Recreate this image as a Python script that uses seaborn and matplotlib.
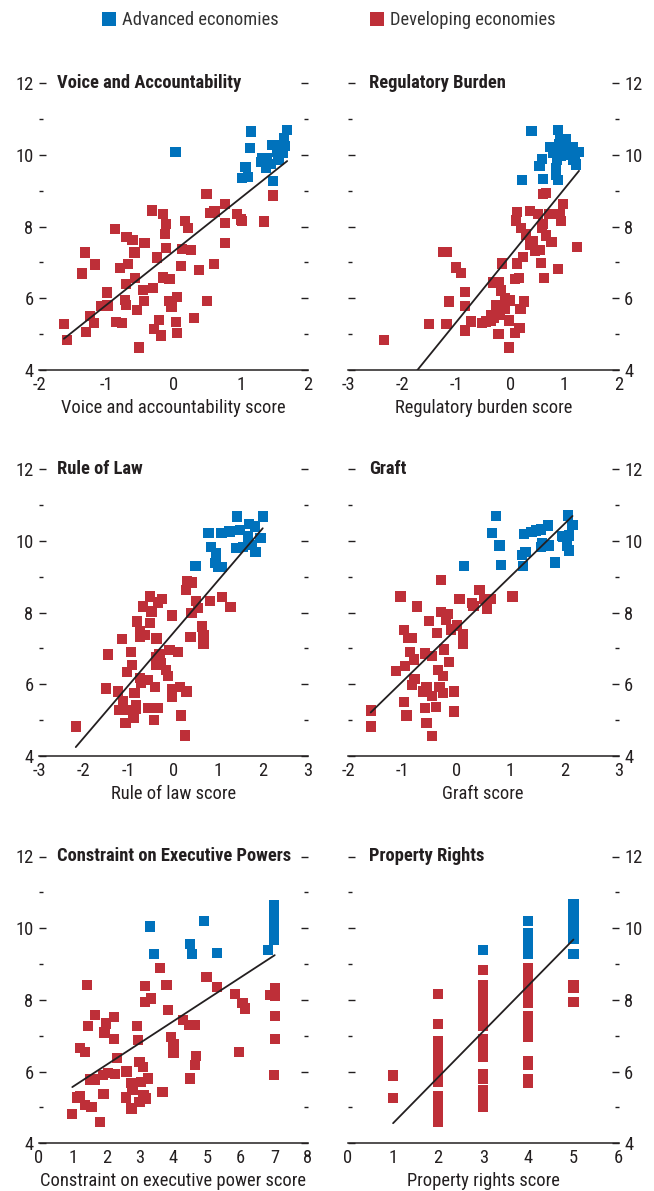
import os
import matplotlib
matplotlib.use("Agg")
import matplotlib.pyplot as plt
import matplotlib.transforms as mtransforms
from matplotlib import font_manager as fm
from matplotlib.lines import Line2D
from matplotlib.ticker import MultipleLocator
import pandas as pd
import seaborn as sns

# ---------------------------------------------------------------- data
# y: log real GDP per capita; x: institutional quality score

voice_adv_x = [0.03, 1.15, 1.14, 1.69, 1.64, 1.47, 1.59, 1.32, 1.39, 1.54, 1.37, 1.07, 1.02, 1.11, 1.48, 1.62, 1.56, 1.45, 1.30, 1.66]
voice_adv_y = [10.07, 10.65, 10.20, 10.70, 10.47, 10.28, 10.28, 9.92, 9.92, 10.09, 9.64, 9.67, 9.36, 9.38, 9.28, 10.05, 9.85, 9.75, 9.80, 10.25]
voice_dev_x = [-1.63, -1.58, -1.30, -1.24, -1.18, -1.32, -1.36, -1.17, -1.07, -0.98, -0.99, -0.87, -0.86, -0.76, -0.79, -0.70,
               -0.68, -0.71, -0.72, -0.71, -0.61, -0.58, -0.57, -0.54, -0.51, -0.43, -0.45, -0.44, -0.32, -0.31, -0.25, -0.29,
               -0.21, -0.18, -0.16, -0.11, -0.13, -0.11, -0.16, -0.06, -0.06, -0.03, 0.05, 0.04, 0.05, 0.11, 0.13, 0.17, 0.21,
               0.26, 0.30, 0.38, 0.49, 0.50, 0.54, 0.61, 0.60, 0.77, 0.76, 0.77, 0.95, 1.00, 1.02, 1.34, 1.48]
voice_dev_y = [5.28, 4.84, 5.07, 5.51, 5.30, 7.28, 6.69, 6.94, 5.79, 5.80, 6.16, 7.93, 5.34, 5.32, 6.85, 7.72,
               6.95, 6.40, 5.95, 5.82, 7.63, 7.28, 6.56, 5.68, 4.63, 7.54, 6.23, 5.92, 8.45, 6.28, 7.14, 5.15,
               5.40, 4.96, 8.35, 8.07, 7.80, 7.41, 6.58, 6.53, 5.93, 5.75, 6.03, 5.33, 5.04, 6.90, 7.38, 8.16, 7.95,
               7.35, 5.46, 6.79, 8.91, 5.93, 8.39, 8.42, 6.96, 8.63, 7.55, 8.11, 8.35, 8.20, 8.15, 8.14, 8.87]

reg_adv_x = [0.39, 0.21, 0.61, 0.59, 0.54, 0.88, 0.73, 0.90, 1.03, 1.06, 1.16, 1.27, 1.16, 1.22, 0.86, 0.85, 0.88, 0.84, 0.94,
             0.95, 1.00, 1.10, 0.80, 1.20, 0.92]
reg_adv_y = [10.67, 9.30, 9.33, 9.89, 9.69, 10.69, 10.23, 10.29, 10.45, 10.06, 10.23, 10.08, 9.87, 9.73, 9.87, 9.64, 9.30, 9.45, 9.97,
             10.30, 10.15, 10.00, 10.05, 9.95, 10.40]
reg_dev_x = [-2.34, -1.51, -1.18, -1.25, -1.18, -1.14, -1.00, -0.91, -0.84, -0.84, -0.84, -0.72, -0.52, -0.35, -0.32, -0.35,
             -0.22, -0.17, -0.26, -0.10, -0.01, -0.15, -0.22, -0.03, -0.03, -0.15, 0.08, 0.17, 0.19, 0.26, 0.08, 0.16, 0.13,
             0.23, 0.13, 0.11, 0.20, 0.29, 0.36, 0.37, 0.42, 0.45, 0.51, 0.54, 0.57, 0.61, 0.59, 0.63, 0.66, 0.76, 0.61,
             0.66, 0.71, 0.88, 0.91, 0.94, 0.97, 1.24, -0.45, -0.30, -0.20, -0.10]
reg_dev_y = [4.84, 5.29, 5.29, 7.29, 7.29, 5.91, 6.86, 6.70, 6.17, 5.79, 5.10, 5.35, 5.32, 5.38, 6.44, 5.54,
             6.44, 6.22, 5.82, 6.00, 5.94, 5.72, 5.01, 4.63, 5.38, 6.97, 5.03, 5.17, 5.70, 5.91, 6.54, 6.56, 6.97,
             7.15, 8.40, 8.17, 7.96, 7.78, 8.43, 7.50, 7.59, 7.31, 8.36, 7.34, 6.98, 8.08, 7.96, 6.56, 7.75, 7.56, 8.90,
             8.94, 8.36, 6.82, 8.36, 8.15, 8.64, 7.42, 5.35, 5.45, 5.55, 5.70]

law_adv_x = [0.49, 0.78, 0.84, 0.94, 0.94, 0.92, 0.99, 1.07, 1.07, 1.25, 1.42, 1.39, 1.49, 1.68, 1.66, 1.74, 1.83, 1.94, 1.99, 1.81, 1.55]
law_adv_y = [9.30, 10.21, 9.84, 9.66, 9.52, 9.38, 9.28, 9.28, 10.21, 10.26, 10.68, 9.80, 10.31, 10.47, 10.12, 9.89, 9.70, 10.07, 10.68, 10.40, 9.84]
law_dev_x = [-2.18, -1.51, -1.46, -1.24, -1.22, -1.14, -1.13, -1.07, -1.04, -0.94, -0.92, -0.98, -0.89, -0.87, -0.84, -0.84,
             -0.81, -0.75, -0.75, -0.75, -0.72, -0.68, -0.64, -0.57, -0.57, -0.53, -0.53, -0.49, -0.42, -0.44, -0.38, -0.38,
             -0.38, -0.35, -0.35, -0.25, -0.31, -0.27, -0.16, -0.13, -0.09, -0.03, -0.03, -0.03, 0.14, 0.10, 0.16, 0.26,
             0.29, 0.27, 0.30, 0.40, 0.40, 0.38, 0.51, 0.55, 0.64, 0.67, 0.67, 0.82, 1.09, 1.27]
law_dev_y = [4.82, 5.88, 6.83, 5.80, 5.28, 7.27, 5.52, 4.93, 6.35, 6.91, 6.54, 5.28, 5.05, 5.75, 5.42, 5.30,
             7.75, 7.47, 7.33, 6.17, 6.03, 8.17, 7.38, 6.12, 5.33, 8.45, 7.72, 8.03, 5.92, 5.00, 7.28, 6.77,
             6.54, 5.33, 8.28, 8.37, 6.85, 6.60, 6.40, 6.23, 6.96, 7.92, 5.86, 5.64, 5.92, 6.91, 5.13, 4.57,
             5.80, 8.63, 8.88, 8.84, 7.98, 7.33, 8.33, 8.12, 7.61, 7.38, 7.13, 8.33, 8.43, 8.15]

graft_adv_x = [0.15, 0.73, 0.66, 0.80, 0.83, 1.22, 1.23, 1.28, 1.26, 1.39, 1.48, 1.57, 1.70, 1.59, 1.57, 1.72, 1.82, 2.07, 2.15, 1.98, 2.09, 2.05, 2.09, 1.95]
graft_adv_y = [9.31, 10.69, 10.22, 9.87, 9.33, 9.61, 9.29, 9.68, 10.20, 10.24, 10.29, 10.32, 10.43, 9.94, 9.82, 9.87, 9.40, 10.71, 10.45, 10.10, 10.15, 9.87, 9.73, 10.13]
graft_dev_x = [-1.58, -1.57, -1.03, -1.12, -0.97, -0.97, -0.95, -0.92, -0.89, -0.86, -0.81, -0.78, -0.77, -0.82, -0.73, -0.61,
               -0.58, -0.55, -0.58, -0.55, -0.50, -0.44, -0.44, -0.44, -0.38, -0.36, -0.33, -0.31, -0.28, -0.28, -0.25, -0.24,
               -0.22, -0.19, -0.16, -0.14, -0.10, -0.04, -0.04, 0.01, 0.06, 0.12, 0.13, 0.29, 0.32, 0.43, 0.52, 0.57, 0.65, 1.04]
graft_dev_y = [5.27, 4.82, 8.45, 6.36, 7.51, 5.50, 6.52, 5.13, 7.30, 6.90, 7.30, 6.69, 6.15, 5.99, 8.17, 5.80,
               6.86, 5.93, 5.34, 4.93, 7.77, 6.79, 5.68, 4.56, 5.36, 7.42, 6.39, 5.93, 8.92, 8.02, 5.76, 6.24,
               6.97, 7.79, 7.95, 6.62, 7.53, 5.80, 5.24, 7.64, 8.37, 7.39, 7.14, 8.26, 8.19, 8.64, 8.37, 8.11, 8.37, 8.45]

exec_adv_x = [3.31, 3.41, 4.90, 4.50, 4.56, 5.29, 6.81, 7, 7, 7, 7, 7, 7, 7, 7, 7, 7, 7, 7, 7, 7]
exec_adv_y = [10.05, 9.27, 10.20, 9.57, 9.27, 9.31, 9.40, 10.65, 10.58, 10.50, 10.42, 10.35, 10.28, 10.20, 10.12, 10.05,
              9.98, 9.90, 9.83, 9.76, 9.68]
exec_dev_x = [0.99, 1.13, 1.21, 1.21, 1.36, 1.36, 1.43, 1.46, 1.56, 1.51, 1.66, 1.66, 1.82, 1.92, 1.90, 1.95,
              2.00, 2.05, 2.22, 2.22, 2.25, 2.32, 2.58, 2.60, 2.73, 2.78, 2.75, 2.92, 2.94, 2.99, 2.99, 3.04,
              3.09, 3.11, 3.19, 3.24, 3.16, 3.16, 3.34, 3.59, 3.67, 3.79, 3.84, 3.93, 4.00, 4.00, 4.28, 4.46,
              4.63, 4.66, 4.63, 4.48, 4.98, 5.29, 5.82, 6.05, 6.12, 5.94, 6.86, 7.01, 7.01, 7.01, 7.01, 6.98]
exec_dev_y = [4.82, 5.28, 5.32, 6.65, 6.55, 5.07, 8.41, 7.27, 5.02, 5.78, 7.57, 5.78, 4.60, 5.37, 5.90, 7.09,
              7.34, 5.95, 7.53, 6.90, 5.93, 6.37, 5.28, 6.00, 5.69, 5.48, 4.97, 7.27, 6.88, 6.27, 5.16, 5.72,
              6.13, 5.35, 5.25, 5.81, 8.38, 7.94, 8.04, 8.89, 5.44, 8.41, 7.71, 6.97, 6.77, 6.52, 7.43, 7.31,
              7.31, 6.43, 6.18, 5.81, 8.64, 8.36, 8.16, 7.92, 7.76, 6.55, 8.13, 8.32, 8.10, 7.55, 6.90, 5.90]

# property rights score is discrete (1-5); income values listed per score
prop_scores = [1, 2, 3, 4, 5]
prop_adv_y = {
    1: [],
    2: [],
    3: [9.40],
    4: [10.20, 9.87, 9.80, 9.75, 9.70, 9.60, 9.52, 9.45, 9.38, 9.33, 9.28],
    5: [10.67, 10.60, 10.55, 10.42, 10.36, 10.30, 10.18, 10.12, 10.05, 9.93, 9.87, 9.82, 9.70, 9.29],
}
prop_dev_y = {
    1: [5.89, 5.27],
    2: [8.17, 7.33, 6.86, 6.72, 6.60, 6.45, 6.30, 6.18, 6.05, 5.90, 5.80, 5.72, 5.33, 5.27, 5.20, 5.12, 5.05,
        4.98, 4.90, 4.82, 4.75, 4.68, 4.60],
    3: [8.84, 8.42, 8.30, 8.15, 8.00, 7.88, 7.75, 7.60, 7.45, 7.28, 6.91, 6.75, 6.60, 6.42, 5.93, 5.80, 5.49, 5.35, 5.20, 5.02],
    4: [8.90, 8.82, 8.75, 8.68, 8.60, 8.52, 8.45, 8.38, 8.30, 8.22, 8.15, 8.05, 7.93, 7.55, 7.40, 7.25, 7.10, 6.98,
        6.28, 6.19, 5.80, 5.69],
    5: [8.42, 8.34, 7.95],
}

group_labels = ["Advanced economies", "Developing economies"]
group_colors = ["#0072BC", "#BE2F38"]

panel_titles = ["Voice and Accountability", "Regulatory Burden", "Rule of Law",
                "Graft", "Constraint on Executive Powers", "Property Rights"]
panel_xlabels = ["Voice and accountability score", "Regulatory burden score", "Rule of law score",
                 "Graft score", "Constraint on executive power score", "Property rights score"]
panel_xlims = [(-2, 2), (-3, 2), (-3, 3), (-2, 3), (0, 8), (0, 6)]
y_limits = (4, 12)


def make_frame(ax_, ay_, dx_, dy_):
    adv = pd.DataFrame({"score": ax_, "income": ay_, "group": group_labels[0]})
    dev = pd.DataFrame({"score": dx_, "income": dy_, "group": group_labels[1]})
    return pd.concat([adv, dev], ignore_index=True)


prop_adv_x, prop_adv_yl, prop_dev_x, prop_dev_yl = [], [], [], []
for s in prop_scores:
    prop_adv_x += [s] * len(prop_adv_y[s])
    prop_adv_yl += prop_adv_y[s]
    prop_dev_x += [s] * len(prop_dev_y[s])
    prop_dev_yl += prop_dev_y[s]

frames = [
    make_frame(voice_adv_x, voice_adv_y, voice_dev_x, voice_dev_y),
    make_frame(reg_adv_x, reg_adv_y, reg_dev_x, reg_dev_y),
    make_frame(law_adv_x, law_adv_y, law_dev_x, law_dev_y),
    make_frame(graft_adv_x, graft_adv_y, graft_dev_x, graft_dev_y),
    make_frame(exec_adv_x, exec_adv_y, exec_dev_x, exec_dev_y),
    make_frame(prop_adv_x, prop_adv_yl, prop_dev_x, prop_dev_yl),
]


# ---------------------------------------------------------------- fonts
def narrow_font():
    """Return (family, stretch) of an installed narrow sans face, if any."""
    wanted = ["liberationsansnarrow", "robotocondensed", "notosans-condensed",
              "dejavusanscondensed", "opensanscondensed", "opensans_condensed"]
    for key in wanted:
        for f in fm.fontManager.ttflist:
            base = os.path.basename(f.fname).lower().replace(" ", "")
            if key in base and "italic" not in base and "oblique" not in base:
                return f.name, f.stretch
    return None, None


family, stretch = narrow_font()

sns.set_style("white")
if family:
    plt.rcParams["font.family"] = [family, "DejaVu Sans"]
    plt.rcParams["font.stretch"] = stretch
    fs = 13.3
else:
    plt.rcParams["font.family"] = ["Roboto", "DejaVu Sans"]
    fs = 11.5

ink = "#231F20"
plt.rcParams.update({
    "text.color": ink,
    "axes.labelcolor": ink,
    "xtick.color": ink,
    "ytick.color": ink,
    "font.size": fs,
    "axes.unicode_minus": False,
})

W, H = 654, 1191
fig = plt.figure(figsize=(W / 100, H / 100), dpi=100)

col_left = [39 / W, 348 / W]
col_width = [269 / W, 270.5 / W]
row_bottom = [1 - 370 / H, 1 - 756 / H, 1 - 1143.3 / H]
row_height = 286.8 / H

palette = dict(zip(group_labels, group_colors))

for i, df in enumerate(frames):
    r, c = divmod(i, 2)
    ax = fig.add_axes([col_left[c], row_bottom[r], col_width[c], row_height])

    sns.scatterplot(data=df, x="score", y="income", hue="group", palette=palette,
                    marker="s", s=54, linewidth=0, legend=False, ax=ax, zorder=2)
    sns.regplot(data=df, x="score", y="income", scatter=False, ci=None, truncate=True,
                line_kws={"color": ink, "lw": 1.3, "zorder": 3}, ax=ax)

    ax.set_xlim(*panel_xlims[i])
    ax.set_ylim(*y_limits)
    ax.xaxis.set_major_locator(MultipleLocator(1))
    ax.xaxis.set_minor_locator(MultipleLocator(0.5))
    ax.yaxis.set_major_locator(MultipleLocator(2))
    ax.yaxis.set_minor_locator(MultipleLocator(1))

    for side in ["top", "left", "right"]:
        ax.spines[side].set_visible(False)
    ax.spines["bottom"].set_color(ink)
    ax.spines["bottom"].set_linewidth(1.1)

    ax.tick_params(axis="x", which="major", direction="in", length=5, width=1.0, pad=4, labelsize=fs)
    ax.tick_params(axis="x", which="minor", direction="in", length=3, width=1.0)
    ax.tick_params(axis="y", which="major", direction="in", length=5, width=1.0,
                   left=True, right=True, labelleft=(c == 0), labelright=(c == 1),
                   pad=4, labelsize=fs)
    ax.tick_params(axis="y", which="minor", direction="in", length=3, width=1.0,
                   left=True, right=True)

    ax.set_xlabel(panel_xlabels[i], fontsize=fs, labelpad=4)
    ax.set_ylabel("")

    trans = mtransforms.blended_transform_factory(ax.transAxes, ax.transData)
    ax.text(0.068 if c == 0 else 0.078, 12, panel_titles[i], transform=trans,
            ha="left", va="center", fontsize=fs, fontweight="bold", clip_on=False)

# legend row across the top
for label, color, x0 in zip(group_labels, group_colors, [102, 370]):
    handle = Line2D([], [], marker="s", linestyle="none", markersize=10.5,
                    markerfacecolor=color, markeredgewidth=0)
    fig.legend(handles=[handle], labels=[label], loc="center left",
               bbox_to_anchor=(x0 / W, 1 - 20 / H), frameon=False, fontsize=fs,
               handlelength=0.8, handletextpad=0.3, borderpad=0, borderaxespad=0,
               labelcolor="#333333")

fig.savefig("out.png", dpi=100)
